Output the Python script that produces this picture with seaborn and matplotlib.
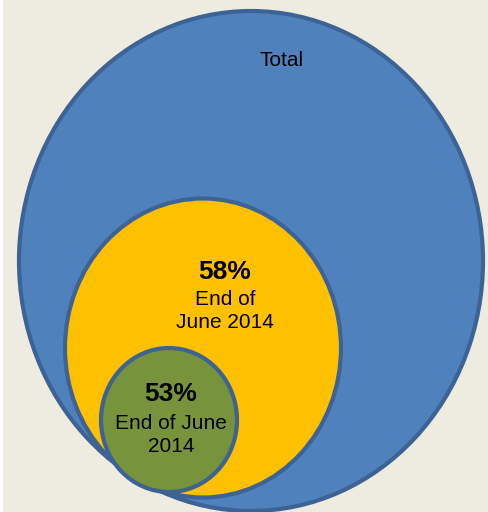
import matplotlib
matplotlib.use("Agg")
import matplotlib.pyplot as plt
from matplotlib.patches import Ellipse, Rectangle
import seaborn as sns

# Data
labels = ["Total", "End of\nJune 2014", "End of June\n2014"]
percents = ["", "58%", "53%"]
fill_colors = ["#4F81BD", "#FFC000", "#77933C"]

# Layout (pixel coordinates of the reference)
centers = [(251, 261), (203, 348), (169, 420)]
sizes = [(464, 500), (276, 299), (136, 144)]

sns.set_theme(style="white")
plt.rcParams["font.family"] = ["Liberation Sans", "DejaVu Sans"]

fig = plt.figure(figsize=(4.88, 5.12), dpi=100)
fig.patch.set_facecolor("white")
ax = fig.add_axes([0, 0, 1, 1])
ax.set_xlim(0, 488)
ax.set_ylim(512, 0)
ax.axis("off")

ax.add_patch(Rectangle((3, 0), 485, 512, facecolor="#EEEBE0", edgecolor="none", zorder=0))

edge = "#3C6394"
for i, ((cx, cy), (w, h), c) in enumerate(zip(centers, sizes, fill_colors)):
    ax.add_patch(Ellipse((cx, cy), w, h, facecolor=c, edgecolor=edge, linewidth=3.0, zorder=1 + i))

ax.text(282, 60, labels[0], ha="center", va="center", fontsize=15, color="black", zorder=10)

ax.text(225, 272, percents[1], ha="center", va="center", fontsize=19, fontweight="bold", color="black", zorder=10)
ax.text(225, 311, labels[1], ha="center", va="center", fontsize=15, color="black", zorder=10, linespacing=1.32)

ax.text(171, 394, percents[2], ha="center", va="center", fontsize=19, fontweight="bold", color="black", zorder=10)
ax.text(171, 435, labels[2], ha="center", va="center", fontsize=15, color="black", zorder=10, linespacing=1.32)

fig.savefig("out.png", dpi=100, facecolor=fig.get_facecolor())
